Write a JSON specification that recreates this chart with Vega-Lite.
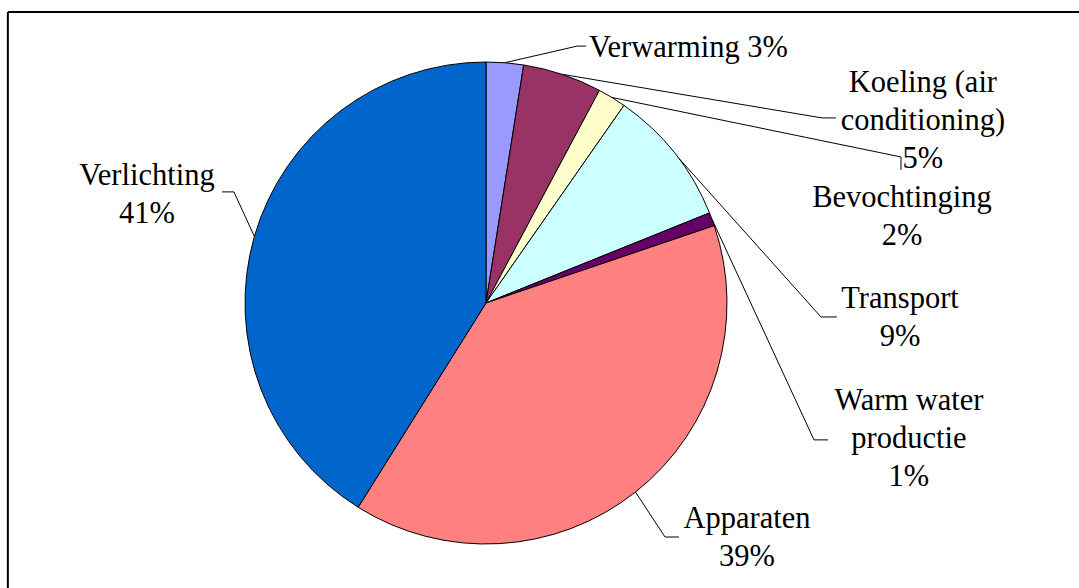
{
  "$schema": "https://vega.github.io/schema/vega-lite/v6.json",
  "width": 1079,
  "height": 588,
  "autosize": {"type": "none"},
  "padding": 0,
  "background": "white",
  "config": {"view": {"stroke": null}},
  "datasets": {
    "slices": [
      {"idx": 1, "name": "Verwarming", "value": 2.5, "label": "Verwarming 3%", "lx": 0.84, "ly": 1.021},
      {"idx": 2, "name": "Koeling (air conditioning)", "value": 5.3, "label": "Koeling (air\nconditioning)\n5%", "lx": 1.813, "ly": 0.876},
      {"idx": 3, "name": "Bevochtinging", "value": 1.9, "label": "Bevochtinging\n2%", "lx": 1.726, "ly": 0.398},
      {"idx": 4, "name": "Transport", "value": 9.2, "label": "Transport\n9%", "lx": 1.718, "ly": -0.021},
      {"idx": 5, "name": "Warm water productie", "value": 0.9, "label": "Warm water\nproductie\n1%", "lx": 1.755, "ly": -0.444},
      {"idx": 6, "name": "Apparaten", "value": 39.1, "label": "Apparaten\n39%", "lx": 1.083, "ly": -0.934},
      {"idx": 7, "name": "Verlichting", "value": 41.1, "label": "Verlichting\n41%", "lx": -1.407, "ly": 0.49}
    ],
    "leaders": [
      {"name": "Verwarming", "seq": 1, "x": 0.078, "y": 0.997},
      {"name": "Verwarming", "seq": 2, "x": 0.378, "y": 1.066},
      {"name": "Verwarming", "seq": 3, "x": 0.415, "y": 1.066},
      {"name": "Koeling", "seq": 1, "x": 0.316, "y": 0.949},
      {"name": "Koeling", "seq": 2, "x": 1.394, "y": 0.768},
      {"name": "Koeling", "seq": 3, "x": 1.452, "y": 0.768},
      {"name": "Bevochtinging", "seq": 1, "x": 0.522, "y": 0.853},
      {"name": "Bevochtinging", "seq": 2, "x": 1.722, "y": 0.606},
      {"name": "Bevochtinging", "seq": 3, "x": 1.722, "y": 0.552},
      {"name": "Transport", "seq": 1, "x": 0.799, "y": 0.602},
      {"name": "Transport", "seq": 2, "x": 1.39, "y": -0.058},
      {"name": "Transport", "seq": 3, "x": 1.456, "y": -0.058},
      {"name": "Warm water", "seq": 1, "x": 0.938, "y": 0.347},
      {"name": "Warm water", "seq": 2, "x": 1.361, "y": -0.568},
      {"name": "Warm water", "seq": 3, "x": 1.419, "y": -0.568},
      {"name": "Apparaten", "seq": 1, "x": 0.62, "y": -0.784},
      {"name": "Apparaten", "seq": 2, "x": 0.743, "y": -0.971},
      {"name": "Apparaten", "seq": 3, "x": 0.801, "y": -0.971},
      {"name": "Verlichting", "seq": 1, "x": -0.961, "y": 0.276},
      {"name": "Verlichting", "seq": 2, "x": -1.046, "y": 0.461},
      {"name": "Verlichting", "seq": 3, "x": -1.095, "y": 0.461}
    ],
    "frame": [{"left": -1.984, "right": 2.4606, "top": 1.207, "bottom": -1.1826}]
  },
  "layer": [
    {
      "data": {"name": "leaders"},
      "mark": {"type": "line", "color": "black", "strokeWidth": 1, "interpolate": "linear"},
      "encoding": {
        "x": {"field": "x", "type": "quantitative", "scale": {"domain": [-2.0166, 2.4606], "nice": false, "zero": false}, "axis": null},
        "y": {"field": "y", "type": "quantitative", "scale": {"domain": [-1.1826, 1.2573], "nice": false, "zero": false}, "axis": null},
        "detail": {"field": "name"},
        "order": {"field": "seq"}
      }
    },
    {
      "data": {"name": "slices"},
      "mark": {
        "type": "arc",
        "stroke": "black",
        "strokeWidth": 1,
        "x": {"expr": "scale('x', 0)"},
        "y": {"expr": "scale('y', 0)"},
        "outerRadius": {"expr": "scale('x', 1) - scale('x', 0)"}
      },
      "encoding": {
        "theta": {"field": "value", "type": "quantitative", "stack": true},
        "order": {"field": "idx"},
        "color": {
          "field": "name",
          "type": "nominal",
          "sort": {"field": "idx"},
          "scale": {
            "domain": ["Verwarming", "Koeling (air conditioning)", "Bevochtinging", "Transport", "Warm water productie", "Apparaten", "Verlichting"],
            "range": ["#9999FF", "#993366", "#FFFFCC", "#CCFFFF", "#660066", "#FF8080", "#0066CC"]
          },
          "legend": null
        }
      }
    },
    {
      "data": {"name": "slices"},
      "mark": {"type": "text", "font": "Liberation Serif", "fontSize": 30.5, "lineHeight": 38, "lineBreak": "\n", "align": "center", "baseline": "alphabetic", "color": "black"},
      "encoding": {
        "x": {"field": "lx", "type": "quantitative"},
        "y": {"field": "ly", "type": "quantitative"},
        "text": {"field": "label"}
      }
    },
    {
      "data": {"name": "frame"},
      "mark": {"type": "rule", "color": "black", "strokeWidth": 2},
      "encoding": {
        "x": {"field": "left", "type": "quantitative"},
        "x2": {"field": "right"},
        "y": {"field": "top", "type": "quantitative"}
      }
    },
    {
      "data": {"name": "frame"},
      "mark": {"type": "rule", "color": "black", "strokeWidth": 2},
      "encoding": {
        "x": {"field": "left", "type": "quantitative"},
        "y": {"field": "top", "type": "quantitative"},
        "y2": {"field": "bottom"}
      }
    }
  ]
}
